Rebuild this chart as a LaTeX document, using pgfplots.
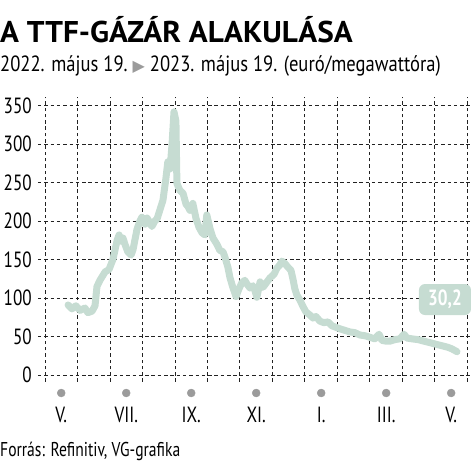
\documentclass[border=0pt]{standalone}
\usepackage{pgfplots}
\pgfplotsset{compat=1.18}
\usepackage{fontspec}
\setmainfont{PT Sans}[FakeStretch=0.78]
\newfontfamily\titlefont{PT Sans}[FakeStretch=1.04]
\newfontfamily\subfont{PT Sans}[FakeStretch=0.845]
\newfontfamily\symfont{DejaVu Sans}
\definecolor{linec}{HTML}{C6DCD2}
\definecolor{dotc}{HTML}{9B9B9B}
\definecolor{gridc}{HTML}{222222}
\begin{document}
\begin{tikzpicture}
\path (0pt,0pt) rectangle (474pt,474pt);
\begin{axis}[
  at={(38pt,92pt)}, anchor=south west,
  scale only axis, width=432pt, height=285pt,
  xmin=-0.215, xmax=13.08, ymin=-9.1, ymax=361.3,
  axis line style={draw=none},
  major tick length=0pt, minor tick length=0pt,
  ytick={0,50,...,350},
  ymajorgrids=true,
  xtick={0.5,2.5,4.5,6.5,8.5,10.5,12.5},
  xticklabels={V.,VII.,IX.,XI.,I.,III.,V.},
  minor xtick={0,1,...,13},
  xminorgrids=true, xmajorgrids=false,
  grid style={gridc, line width=0.9pt, dash pattern=on 3.5pt off 2.8pt},
  minor grid style={gridc, line width=0.9pt, dash pattern=on 3.5pt off 2.8pt},
  /pgf/number format/assume math mode=true,
  tick label style={font=\fontsize{22}{22}\selectfont},
  yticklabel style={anchor=east, inner sep=0pt, xshift=-6pt},
  xticklabel style={anchor=base, inner sep=0pt, yshift=-41pt},
  clip=false,
  axis on top=false,
]
\addplot[linec, line width=7pt, line join=round, line cap=round] table {
x y
0.71 91
0.83 86
0.95 90
1.08 84
1.23 87
1.32 81
1.45 83
1.54 90
1.60 115
1.69 123
1.85 134
1.97 137
2.09 150
2.22 175
2.28 182
2.34 174
2.40 178
2.46 170
2.55 160
2.65 156
2.71 163
2.83 189
2.92 200
2.98 205
3.08 196
3.14 204
3.23 198
3.29 193
3.38 200
3.45 203
3.54 215
3.63 227
3.72 255
3.78 277
3.85 268
3.91 300
3.97 342
4.03 330
4.06 249
4.15 240
4.25 236
4.34 222
4.40 219
4.46 214
4.55 223
4.65 203
4.74 192
4.83 185
4.92 182
4.98 208
5.08 190
5.17 178
5.29 170
5.38 162
5.48 160
5.54 153
5.63 140
5.69 127
5.78 114
5.88 102
5.97 112
6.06 120
6.15 123
6.22 118
6.31 113
6.40 116
6.46 110
6.52 101
6.62 121
6.71 114
6.78 118
6.92 126
7.05 131
7.14 139
7.23 143
7.29 148
7.38 145
7.48 140
7.57 136
7.63 125
7.69 112
7.75 104
7.85 97
7.94 89
8.03 82
8.15 78
8.25 74
8.34 76
8.46 70
8.58 68
8.71 69
8.83 64
8.95 62
9.08 60
9.23 58
9.38 56
9.54 55
9.69 52
9.85 51
10.00 49
10.15 47
10.28 53
10.37 45
10.49 44
10.62 44
10.77 46
10.92 47
11.05 53
11.14 48
11.29 47
11.48 46
11.66 44
11.85 42
12.03 40
12.22 38
12.40 36
12.52 34
12.65 31
12.68 30.2
};
\addplot[only marks, mark=*, mark size=4pt, dotc] coordinates {
(0.5,-23.4) (2.5,-23.4) (4.5,-23.4) (6.5,-23.4) (8.5,-23.4) (10.5,-23.4) (12.5,-23.4)
};
\node[fill=linec, rounded corners=6pt, minimum width=52pt, minimum height=31pt, inner sep=0pt,
  text=white, font=\bfseries\fontsize{22}{22}\selectfont] at (axis cs:12.31,98.1) {30,2};
\end{axis}
\node[anchor=base west, inner sep=0pt] at (0pt,431pt)
  {\titlefont\bfseries\fontsize{30}{30}\selectfont A TTF-GÁZÁR ALAKULÁSA};
\node[anchor=base west, inner sep=0pt] at (0pt,402pt)
  {\subfont\fontsize{22}{22}\selectfont 2022. május 19.\ {\color{dotc}\symfont\fontsize{16}{16}\selectfont ▶}\ 2023. május 19. (euró/megawattóra)};
\node[anchor=base west, inner sep=0pt] at (0pt,17pt)
  {\fontsize{20}{20}\selectfont Forrás: Refinitiv, VG-grafika};
\end{tikzpicture}
\end{document}
